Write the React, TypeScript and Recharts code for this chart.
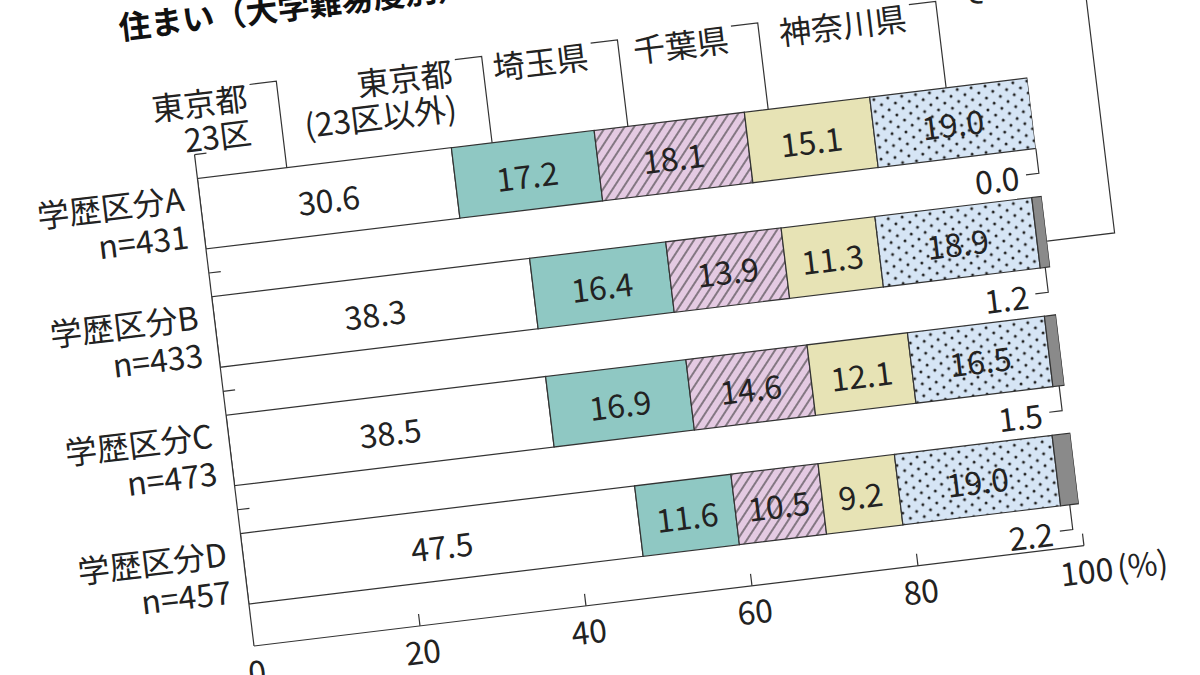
import React from 'react';
import { BarChart, Bar, XAxis, YAxis, LabelList } from 'recharts';

// ---- data ----
const categories = ['学歴区分A', '学歴区分B', '学歴区分C', '学歴区分D'];
const sampleSizes = [431, 433, 473, 457];
const tokyo23 = [30.6, 38.3, 38.5, 47.5];
const tokyoOther = [17.2, 16.4, 16.9, 11.6];
const saitama = [18.1, 13.9, 14.6, 10.5];
const chiba = [15.1, 11.3, 12.1, 9.2];
const kanagawa = [19.0, 18.9, 16.5, 19.0];
const others = [0.0, 1.2, 1.5, 2.2];
const xTicks = [0, 20, 40, 60, 80, 100];
const title = '住まい（大学難易度別）';

const data = categories.map((name, i) => ({
  name,
  n: sampleSizes[i],
  tokyo23: tokyo23[i],
  tokyoOther: tokyoOther[i],
  saitama: saitama[i],
  chiba: chiba[i],
  kanagawa: kanagawa[i],
  others: others[i],
}));

// ---- styles / layout ----
const FONT = '"Noto Sans CJK JP", "Noto Sans", sans-serif';
const INK = '#222';
const LINE = '#333';
const FS = 32;
const BAND = 119.25;

const series = [
  { key: 'tokyo23', lines: ['東京都', '23区'], fill: '#ffffff', leader: 90 },
  { key: 'tokyoOther', lines: ['東京都', '(23区以外)'], fill: '#8fc8c3', leader: 41 },
  { key: 'saitama', lines: ['埼玉県'], fill: 'url(#hatch)', leader: 34 },
  { key: 'chiba', lines: ['千葉県'], fill: '#e7e3b5', leader: 24 },
  { key: 'kanagawa', lines: ['神奈川県'], fill: 'url(#dots)', leader: 77 },
];

const getBox = (p: any) => {
  const vb = p.viewBox || {};
  return {
    x: Number(p.x ?? vb.x ?? 0),
    y: Number(p.y ?? vb.y ?? 0),
    width: Number(p.width ?? vb.width ?? 0),
    height: Number(p.height ?? vb.height ?? 0),
  };
};

const valueLabel = (p: any) => {
  const { x, y, width, height } = getBox(p);
  return (
    <text x={x + width / 2} y={y + height / 2} textAnchor="middle" dominantBaseline="central"
      fontFamily={FONT} fontSize={FS} fill={INK}>
      {Number(p.value).toFixed(1)}
    </text>
  );
};

const makeNameLabel = (lines: string[], leader: number) => (p: any) => {
  if (p.index !== 0) return null;
  const { x, y } = getBox(p);
  const lx = x + leader;
  const tr = lx - 31;
  const top = y - 87;
  return (
    <g>
      <path d={`M${tr + 4},${top} L${lx},${top} L${lx},${y}`} fill="none" stroke={LINE} strokeWidth={1.2} />
      {lines.map((t, i) => (
        <text key={i} x={tr} y={y - 76 + i * 35} textAnchor="end" dominantBaseline="central"
          fontFamily={FONT} fontSize={FS} fill={INK}>{t}</text>
      ))}
    </g>
  );
};

// labels for the last ("その他") segment, drawn from the 神奈川県 segment geometry
// (segment width scaled by the value ratio, so every row is reached even when the value is 0)
const othersLabel = (p: any) => {
  const i = p.index;
  const { x, y, width, height } = getBox(p);
  const kv = kanagawa[i];
  const ov = others[i];
  const ow = kv ? (width * ov) / kv : 0;
  const ex = x + width + ow;
  const mx = x + width + ow / 2;
  const by = y + height;
  const els: any[] = [
    <path key="l" d={`M${mx},${by} L${mx},${by + 25} L${mx - 13},${by + 25}`} fill="none" stroke={LINE} strokeWidth={1.2} />,
    <text key="t" x={mx - 20} y={by + 25} textAnchor="end" dominantBaseline="central"
      fontFamily={FONT} fontSize={FS} fill={INK}>{ov.toFixed(1)}</text>,
  ];
  if (i === 1) {
    const lx = ex + 68;
    const aTop = y - BAND;
    const top = aTop - 106;
    els.push(
      <path key="n" d={`M${ex},${y + 45} L${lx},${y + 45} L${lx},${top} L${lx - 27},${top}`} fill="none" stroke={LINE} strokeWidth={1.2} />,
      <text key="nt" x={lx - 31} y={aTop - 95} textAnchor="end" dominantBaseline="central"
        fontFamily={FONT} fontSize={FS} fill={INK}>その他</text>
    );
  }
  return <g>{els}</g>;
};

const CatTick = (p: any) => {
  const { x, y, payload } = p;
  const row = data.find((d) => d.name === payload.value);
  const ax = x + 16;
  const by = y - BAND / 2;
  return (
    <g>
      <line x1={ax} y1={by} x2={ax + 12} y2={by} stroke={LINE} strokeWidth={1.2} />
      <text x={x} y={y - 19} textAnchor="end" dominantBaseline="central" fontFamily={FONT} fontSize={FS} fill={INK}>
        {payload.value}
      </text>
      <text x={x} y={y + 19} textAnchor="end" dominantBaseline="central" fontFamily={FONT} fontSize={FS} fill={INK}>
        {`n=${row ? row.n : ''}`}
      </text>
    </g>
  );
};

const XTick = (p: any) => {
  const { x, y, payload } = p;
  const v = payload.value;
  return (
    <g>
      {v !== 0 && <line x1={x} y1={y} x2={x} y2={y - 12} stroke={LINE} strokeWidth={1.2} />}
      {v === 100 ? (
        <text x={x - 27} y={y + 24} textAnchor="start" dominantBaseline="central" fontFamily={FONT} fontSize={FS} fill={INK}>
          100<tspan dx={4}>(%)</tspan>
        </text>
      ) : (
        <text x={x} y={y + 24} textAnchor="middle" dominantBaseline="central" fontFamily={FONT} fontSize={FS} fill={INK}>
          {v}
        </text>
      )}
    </g>
  );
};

export default function App() {
  return (
    <div style={{ position: 'fixed', left: 0, top: 0, width: 1200, height: 675, overflow: 'hidden', background: '#fff', fontFamily: FONT }}>
      <div style={{ position: 'absolute', left: -6, top: -29, width: 1300, height: 800, transform: 'rotate(-6.9deg)', transformOrigin: '260px 675px' }}>
        <div style={{ position: 'absolute', left: 200, top: 27, fontSize: 32, fontWeight: 700, lineHeight: '32px', color: '#111', whiteSpace: 'nowrap', fontFamily: FONT }}>
          {title}
        </div>
        <BarChart width={1300} height={800} data={data} layout="vertical" barSize={71}
          margin={{ top: 180, right: 204, bottom: 95, left: 0 }}>
          <defs>
            <pattern id="hatch" patternUnits="userSpaceOnUse" width="8" height="8" patternTransform="rotate(40)">
              <rect width="8" height="8" fill="#e4cae2" />
              <line x1="4" y1="0" x2="4" y2="8" stroke="#333" strokeWidth="1.1" />
            </pattern>
            <pattern id="dots" patternUnits="userSpaceOnUse" width="14" height="12">
              <rect width="14" height="12" fill="#d6e5f5" />
              <circle cx="3" cy="3" r="1.5" fill="#222" />
              <circle cx="10" cy="9" r="1.5" fill="#222" />
            </pattern>
          </defs>
          <XAxis type="number" domain={[0, 100]} ticks={xTicks} allowDataOverflow interval={0}
            axisLine={{ stroke: LINE, strokeWidth: 1.2 }} tickLine={false} tickSize={0} tickMargin={0} height={30}
            tick={<XTick />} />
          <YAxis type="category" dataKey="name" width={260} padding={{ top: 0, bottom: 18 }} interval={0}
            axisLine={{ stroke: LINE, strokeWidth: 1.2 }} tickLine={false} tickSize={0} tickMargin={16}
            tick={<CatTick />} />
          {series.map((s) => (
            <Bar key={s.key} dataKey={s.key} stackId="s" fill={s.fill} stroke={LINE} strokeWidth={1.2} isAnimationActive={false}>
              <LabelList dataKey={s.key} content={valueLabel} />
              <LabelList dataKey={s.key} content={makeNameLabel(s.lines, s.leader)} />
              {s.key === 'kanagawa' && <LabelList dataKey={s.key} content={othersLabel} />}
            </Bar>
          ))}
          <Bar dataKey="others" stackId="s" fill="#8a8a8a" stroke={LINE} strokeWidth={1.2} isAnimationActive={false} />
        </BarChart>
      </div>
    </div>
  );
}
